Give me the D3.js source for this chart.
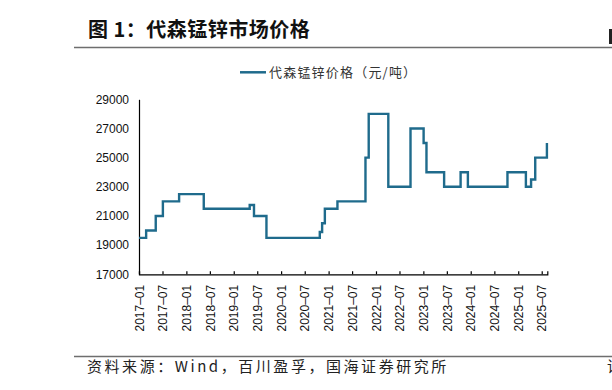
<!DOCTYPE html>
<html>
<head>
<meta charset="utf-8">
<script src="https://cdn.jsdelivr.net/npm/d3@7"></script>
<style>
  html, body { margin: 0; padding: 0; background: #fff; }
  svg { display: block; }
</style>
</head>
<body>
<svg id="chart" width="612" height="390"></svg>
<script>
// ---- data (step change points) ----
const changeDates = [
  "2017-01-01","2017-02-25","2017-05-10","2017-07-04","2017-11-06","2018-05-15",
  "2019-05-04","2019-06-06","2019-09-10","2020-10-25","2020-11-12","2020-12-03",
  "2021-03-10","2021-10-12","2021-11-06","2022-04-06","2022-09-24","2023-01-03",
  "2023-01-25","2023-06-10","2023-10-15","2023-12-10","2024-10-10","2025-03-01",
  "2025-04-10","2025-05-12","2025-08-10"
];
const prices = [
  19500,20000,21000,22000,22500,21500,
  21750,21000,19500,19900,20500,21500,
  22000,25000,28000,23000,27000,26000,
  24000,23000,24000,23000,24000,23000,
  23500,25000,26000
];
const xTickLabels = [
  "2017-01","2017-07","2018-01","2018-07","2019-01","2019-07","2020-01","2020-07",
  "2021-01","2021-07","2022-01","2022-07","2023-01","2023-07","2024-01","2024-07",
  "2025-01","2025-07"
];
const yTicks = [17000,19000,21000,23000,25000,27000,29000];
const seriesName = "代森锰锌价格（元/吨）";
const titleText = "图 1：代森锰锌市场价格";
const sourceText = "资料来源：Wind，百川盈孚，国海证券研究所";

(function () {
// ---- layout ----
const svg = d3.select("#chart");
const pLeft = 139, pRight = 547.3, pTop = 99.3, pBottom = 274.3;
const parse = d3.timeParse("%Y-%m-%d");
const parseM = d3.timeParse("%Y-%m");
const data = changeDates.map((d, i) => ({ date: parse(d), value: prices[i] }));

const x = d3.scaleTime()
  .domain([parse("2017-01-01"), parse("2025-08-13")])
  .range([pLeft, pRight]);
const y = d3.scaleLinear().domain([17000, 29000]).range([pBottom, pTop]);

// title
svg.append("text")
  .attr("x", 88).attr("y", 37)
  .attr("font-family", "'Noto Sans CJK SC', sans-serif")
  .attr("font-weight", "bold")
  .attr("font-size", 20)
  .attr("letter-spacing", 0.5)
  .attr("fill", "#111")
  .text(titleText);
svg.append("line")
  .attr("x1", 74).attr("x2", 612).attr("y1", 47.5).attr("y2", 47.5)
  .attr("stroke", "#6e6e6e").attr("stroke-width", 1.5);
svg.append("rect").attr("x", 609).attr("y", 29).attr("width", 3).attr("height", 15).attr("fill", "#222");

// legend
svg.append("line")
  .attr("x1", 240).attr("x2", 266).attr("y1", 72.3).attr("y2", 72.3)
  .attr("stroke", "#1f6b8c").attr("stroke-width", 2.5);
svg.append("text")
  .attr("x", 269).attr("y", 77)
  .attr("font-family", "'Noto Sans CJK SC', sans-serif")
  .attr("font-size", 13)
  .attr("letter-spacing", 1.2)
  .attr("fill", "#333")
  .text(seriesName);

// y axis
const yAxis = d3.axisLeft(y).tickValues(yTicks).tickSize(0).tickPadding(10)
  .tickFormat(d3.format("d"));
const gy = svg.append("g").attr("transform", `translate(${pLeft},0)`).call(yAxis);
gy.select(".domain").attr("stroke", "#000").attr("stroke-width", 1.2);
gy.selectAll("text")
  .attr("font-family", "'Liberation Sans', Arial, sans-serif")
  .attr("font-size", 12).attr("fill", "#111");

// x axis
const xAxis = d3.axisBottom(x)
  .tickValues(xTickLabels.map(parseM))
  .tickSize(-3)
  .tickFormat(d3.timeFormat("%Y–%m"));
const gx = svg.append("g").attr("transform", `translate(0,${pBottom})`).call(xAxis);
gx.select(".domain").attr("stroke", "#000").attr("stroke-width", 1.2);
gx.selectAll(".tick line").attr("stroke", "#000").attr("stroke-width", 1.2);
gx.selectAll("text")
  .attr("font-family", "'Liberation Sans', Arial, sans-serif")
  .attr("font-size", 12).attr("fill", "#111")
  .attr("text-anchor", "end")
  .attr("transform", "rotate(-90)")
  .attr("x", -10.5).attr("y", 0).attr("dy", "0.35em");

// line
const line = d3.line()
  .x(d => x(d.date))
  .y(d => y(d.value))
  .curve(d3.curveStepAfter);
svg.append("path")
  .datum(data)
  .attr("d", line)
  .attr("fill", "none")
  .attr("stroke", "#1f6b8c")
  .attr("stroke-width", 2.4)
  .attr("stroke-linejoin", "miter");

// footer
svg.append("line")
  .attr("x1", 74).attr("x2", 612).attr("y1", 356.5).attr("y2", 356.5)
  .attr("stroke", "#6e6e6e").attr("stroke-width", 1.5);
svg.append("text")
  .attr("x", 87).attr("y", 372)
  .attr("font-family", "'Noto Sans CJK SC', sans-serif")
  .attr("font-size", 15)
  .attr("letter-spacing", 2.55)
  .attr("fill", "#222")
  .text(sourceText);
svg.append("text")
  .attr("x", 607).attr("y", 372)
  .attr("font-family", "'Noto Sans CJK SC', sans-serif")
  .attr("font-size", 15)
  .attr("fill", "#222")
  .text("请");
})();
</script>
</body>
</html>
